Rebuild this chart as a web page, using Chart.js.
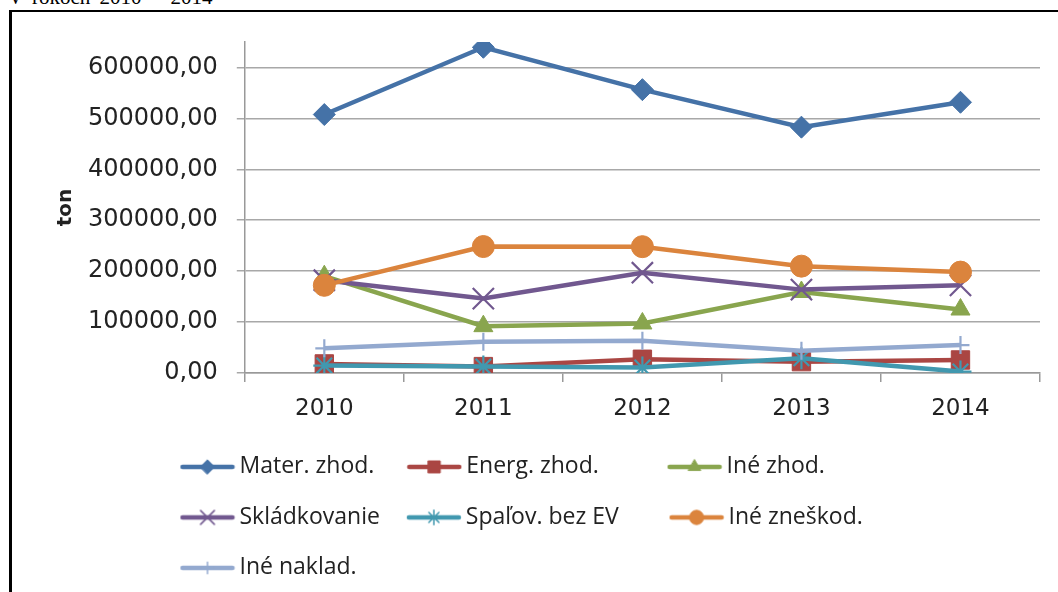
<!DOCTYPE html>
<html>
<head>
<meta charset="utf-8">
<title>Nakladanie s odpadmi 2010 - 2014</title>
<script src="https://cdn.jsdelivr.net/npm/chart.js@4.4.1/dist/chart.umd.min.js"></script>
<style>
  body { margin: 0; background: #fff; }
  #wrap { position: relative; width: 1058px; height: 592px; overflow: hidden; }
  #caption { position: absolute; left: 8px; top: -13px; font: 21px "Liberation Serif", serif; line-height: 21px; word-spacing: 4px; white-space: pre; color: #000; }
  #frame { position: absolute; left: 9px; top: 10px; width: 1100px; height: 700px; border-left: 3px solid #000; border-top: 2px solid #000; pointer-events: none; }
  #chart { position: absolute; left: 0; top: 0; }
</style>
</head>
<body>
<div id="wrap">
  <div id="caption">V rokoch 2010 – 2014</div>
  <div id="frame"></div>
  <canvas id="chart" width="1058" height="592"></canvas>
</div>
<script>
// data (tons)
const years = ['2010', '2011', '2012', '2013', '2014'];
const materZhod    = [507500, 639600, 556400, 482700, 531600];
const energZhod    = [17600, 12400, 26800, 22100, 25400];
const ineZhod      = [190000, 91800, 97100, 158900, 124500];
const skladkovanie = [182000, 146000, 196800, 163600, 172000];
const spalovBezEV  = [14300, 12400, 10400, 28700, 2600];
const ineZneskod   = [172000, 248200, 248000, 209700, 198000];
const ineNaklad    = [48200, 61200, 63100, 43600, 54700];
const yTicks = [0, 100000, 200000, 300000, 400000, 500000, 600000];

const seriesNames = ['Mater. zhod.', 'Energ. zhod.', 'Iné zhod.', 'Skládkovanie', 'Spaľov. bez EV', 'Iné zneškod.', 'Iné naklad.'];
const seriesData = [materZhod, energZhod, ineZhod, skladkovanie, spalovBezEV, ineZneskod, ineNaklad];
const seriesColors = ['#4572A7', '#AA4643', '#89A54E', '#71588F', '#4198AF', '#DB843D', '#93A9CF'];
const markers = [
    {style: 'rectRot', radius: 11, border: 1},
    {style: 'rect', radius: 13, border: 1},
    {style: 'triangle', radius: 11, border: 1},
    {style: 'crossRot', radius: 15, border: 2.2},
    {style: 'star', radius: 11, border: 2.2},
    {style: 'circle', radius: 11, border: 1},
    {style: 'cross', radius: 9, border: 2.2}
];

const FONT = 'DejaVu Sans';
const LEGEND_FONT = 'Open Sans';
const legendFontSize = 23;
const colTargets = [145, 183, null]; // text width per legend column

// small line+marker pictures for the legend
function makeSymbol(i) {
    const c = document.createElement('canvas');
    c.width = 56; c.height = 22;
    const ctx = c.getContext('2d');
    ctx.strokeStyle = seriesColors[i];
    ctx.fillStyle = seriesColors[i];
    ctx.lineWidth = 4.5;
    ctx.lineCap = 'round';
    ctx.beginPath();
    ctx.moveTo(3, 11);
    ctx.lineTo(53, 11);
    ctx.stroke();
    ctx.lineWidth = markers[i].border > 1 ? 1.5 : 1;
    Chart.helpers.drawPoint(ctx, {
        pointStyle: markers[i].style,
        radius: markers[i].radius * 0.65,
        borderWidth: ctx.lineWidth,
        rotation: 0
    }, 28, 11);
    return c;
}

const measureCtx = document.createElement('canvas').getContext('2d');
measureCtx.font = legendFontSize + 'px "' + LEGEND_FONT + '"';
function padLabel(text, target) {
    if (!target) return text;
    const w = measureCtx.measureText(text).width;
    const s = measureCtx.measureText('\u00a0').width;
    const n = Math.max(0, Math.round((target - w) / s));
    return text + '\u00a0'.repeat(n);
}

const symbols = seriesNames.map((n, i) => makeSymbol(i));

const datasets = seriesNames.map((name, i) => ({
    label: name,
    data: seriesData[i],
    borderColor: seriesColors[i],
    backgroundColor: seriesColors[i],
    borderWidth: 4.5,
    tension: 0,
    pointStyle: markers[i].style,
    pointRadius: markers[i].radius,
    pointBorderWidth: markers[i].border,
    pointBackgroundColor: seriesColors[i],
    pointBorderColor: seriesColors[i],
    order: seriesNames.length - i   // later series on top, like Excel
}));

// Excel puts the legend in columns starting left of the plot
const legendPlace = {
    id: 'legendPlace',
    afterLayout(chart) {
        const lg = chart.legend;
        const w = lg.right - lg.left;
        lg.left = 159.5;
        lg.right = 159.5 + w;
        const dy = chart.chartArea.bottom + 55 - lg.top;
        lg.top += dy;
        lg.bottom += dy;
    }
};

new Chart(document.getElementById('chart'), {
    type: 'line',
    data: { labels: years, datasets: datasets },
    plugins: [legendPlace],
    options: {
        responsive: false,
        animation: false,
        devicePixelRatio: 1,
        layout: { padding: { left: 50, right: 18, top: 42, bottom: -5 } },
        plugins: {
            tooltip: { enabled: false },
            legend: {
                position: 'bottom',
                align: 'start',
                fullSize: false,
                labels: {
                    usePointStyle: true,
                    pointStyleWidth: 41,
                    padding: 27.5,
                    color: '#222',
                    font: { family: LEGEND_FONT, size: legendFontSize },
                    generateLabels: chart => chart.data.datasets.map((ds, i) => ({
                        text: padLabel(ds.label, colTargets[i % 3]),
                        pointStyle: symbols[i],
                        fillStyle: ds.borderColor,
                        strokeStyle: ds.borderColor,
                        lineWidth: 0,
                        hidden: false,
                        datasetIndex: i,
                        fontColor: '#222'
                    }))
                }
            }
        },
        scales: {
            x: {
                offset: true,
                grid: { offset: true, drawOnChartArea: false, drawTicks: true, tickLength: 9, color: '#999', lineWidth: 1.5 },
                border: { color: '#999', width: 1.5 },
                ticks: { padding: 13, color: '#222', font: { family: FONT, size: 23 } }
            },
            y: {
                min: 0,
                max: 650000,
                afterBuildTicks: scale => { scale.ticks = yTicks.map(v => ({ value: v })); },
                grid: { color: '#a8a8a8', lineWidth: 1.5, tickLength: 8 },
                border: { color: '#999', width: 1.5 },
                ticks: {
                    padding: 19,
                    color: '#222',
                    font: { family: FONT, size: 24 },
                    callback: v => v.toFixed(2).replace('.', ',')
                },
                title: {
                    display: true,
                    text: 'ton',
                    color: '#222',
                    font: { family: FONT, size: 20, weight: 'bold' },
                    padding: { top: 4, bottom: -9 }
                }
            }
        }
    }
});
</script>
</body>
</html>
